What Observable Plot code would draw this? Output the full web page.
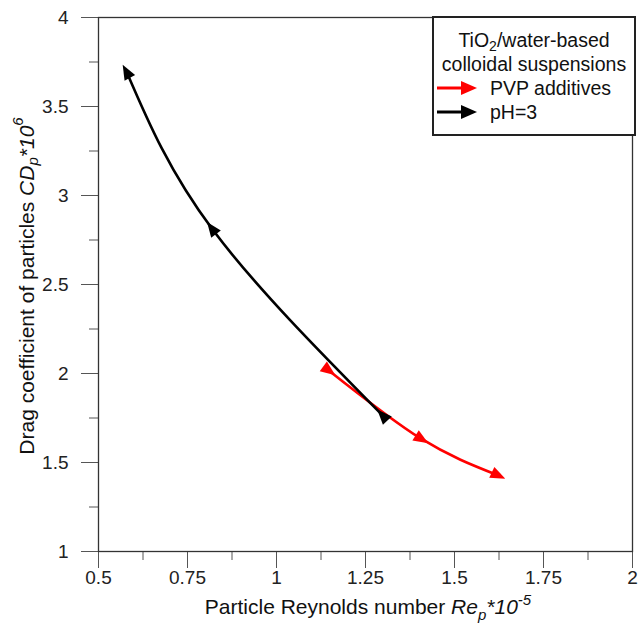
<!DOCTYPE html>
<html><head><meta charset="utf-8">
<script src="https://cdn.jsdelivr.net/npm/d3@7"></script>
<script src="https://cdn.jsdelivr.net/npm/@observablehq/plot@0.6"></script>
<style>
body{margin:0;background:#fff;font-family:"Liberation Sans",Arial,sans-serif;}
#wrap{position:relative;width:641px;height:635px;}
#legend{position:absolute;left:432px;top:16px;width:200px;height:116px;border:2px solid #222;background:#fff;color:#111;font-size:19.5px;line-height:24px;box-sizing:content-box;}
#legend .t{text-align:center;}
#legend .t:first-child{margin-top:10px;}
#legend .row{display:flex;align-items:center;height:24px;}
#legend .row svg{margin-left:3px;margin-right:13px;}
</style>
</head><body>
<div id="wrap"></div>
<script>
// ---- data ----
const seriesNames = ["PVP additives", "pH=3"];
const seriesColors = ["#ff0000", "#000000"];
// points listed in drawing (arrow) order
const pvpRe = [1.145, 1.405, 1.62];
const pvpCD = [2.02, 1.635, 1.43];
const ph3Re = [1.30, 0.82, 0.58];
const ph3CD = [1.76, 2.81, 3.69];
const xMajor = [0.5, 0.75, 1, 1.25, 1.5, 1.75, 2];
const xMinor = [0.625, 0.875, 1.125, 1.375, 1.625, 1.875];
const yMajor = [1, 1.5, 2, 2.5, 3, 3.5, 4];
const yMinor = [1.25, 1.75, 2.25, 2.75, 3.25, 3.75];

const W = 641, H = 635;
const mL = 98, mR = 9, mT = 17, mB = 84;
const xDom = [0.5, 2], yDom = [1, 4];

function series(name, re, cd) {
  return re.map((x, i) => ({series: name, x, y: cd[i], i, n: re.length, re, cd}));
}
const data = [...series(seriesNames[0], pvpRe, pvpCD), ...series(seriesNames[1], ph3Re, ph3CD)];

const kx = (W - mL - mR) / (xDom[1] - xDom[0]);
const ky = (H - mT - mB) / (yDom[1] - yDom[0]);
function angle(d) {
  const a = Math.max(0, d.i - 1), b = Math.min(d.n - 1, d.i + 1);
  const dx = (d.re[b] - d.re[a]) * kx, dy = -(d.cd[b] - d.cd[a]) * ky;
  return Math.atan2(dy, dx) * 180 / Math.PI + 90;
}
const arrowHead = {
  draw(ctx, size) {
    const r = Math.sqrt(size / Math.PI);
    ctx.moveTo(0, -1.2 * r);
    ctx.lineTo(0.8 * r, 0.8 * r);
    ctx.lineTo(-0.8 * r, 0.8 * r);
    ctx.closePath();
  }
};

const chart = Plot.plot({
  width: W, height: H,
  marginLeft: mL, marginRight: mR, marginTop: mT, marginBottom: mB,
  x: {domain: xDom},
  y: {domain: yDom},
  color: {domain: seriesNames, range: seriesColors},
  style: {fontFamily: "Liberation Sans, Arial, sans-serif", fontSize: "19px", color: "#222", background: "#fff"},
  marks: [
    Plot.axisY(yMajor, {tickSize: 17, tickPadding: 13, tickFormat: d => String(d), stroke: "#555", fill: "#222", fontSize: 19, label: null}),
    Plot.axisY(yMinor, {tickSize: 9, tickFormat: () => "", stroke: "#555", label: null}),
    Plot.axisX(xMajor, {tickSize: 17, tickPadding: 2, tickFormat: d => String(d), stroke: "#555", fill: "#222", fontSize: 19, label: null}),
    Plot.axisX(xMinor, {tickSize: 9, tickFormat: () => "", stroke: "#555", label: null}),
    Plot.frame({stroke: "#333", strokeWidth: 1.3}),
    Plot.line(data, {x: "x", y: "y", z: "series", stroke: "series", strokeWidth: 2.6, curve: "natural"}),
    Plot.dot(data, {x: "x", y: "y", fill: "series", stroke: "none", symbol: arrowHead, r: 7.5, rotate: angle})
  ]
});
document.getElementById("wrap").appendChild(chart);

// rich-text axis titles
const svg = d3.select(chart);
const yl = svg.append("text")
  .attr("transform", "translate(28,286) rotate(-90)")
  .attr("text-anchor", "middle").attr("dominant-baseline", "middle")
  .attr("font-size", 21).attr("fill", "#111");
yl.append("tspan").text("Drag coefficient of particles ");
yl.append("tspan").attr("font-style", "italic").text("CD");
yl.append("tspan").attr("font-style", "italic").attr("font-size", 15).attr("dy", 6).text("p");
yl.append("tspan").attr("font-style", "italic").attr("dy", -6).text("*10");
yl.append("tspan").attr("font-style", "italic").attr("font-size", 15).attr("dy", -9).text("6");

const xl = svg.append("text")
  .attr("x", 368).attr("y", 614)
  .attr("text-anchor", "middle")
  .attr("font-size", 21).attr("fill", "#111");
xl.append("tspan").text("Particle Reynolds number ");
xl.append("tspan").attr("font-style", "italic").text("Re");
xl.append("tspan").attr("font-style", "italic").attr("font-size", 15).attr("dy", 6).text("p");
xl.append("tspan").attr("font-style", "italic").attr("dy", -6).text("*10");
xl.append("tspan").attr("font-style", "italic").attr("font-size", 15).attr("dy", -9).text("-5");

// legend
const lg = document.createElement("div");
lg.id = "legend";
lg.innerHTML = `<div class="t">TiO<sub style="font-size:14px;vertical-align:-4px;line-height:0">2</sub>/water-based</div><div class="t">colloidal suspensions</div>` +
  seriesNames.map((s, i) => `<div class="row"><svg width="40" height="16"><line x1="0" y1="8" x2="30" y2="8" stroke="${seriesColors[i]}" stroke-width="3"/><polygon points="40,8 24,1 24,15" fill="${seriesColors[i]}"/></svg><span>${s}</span></div>`).join("");
document.getElementById("wrap").appendChild(lg);
</script>
</body></html>
